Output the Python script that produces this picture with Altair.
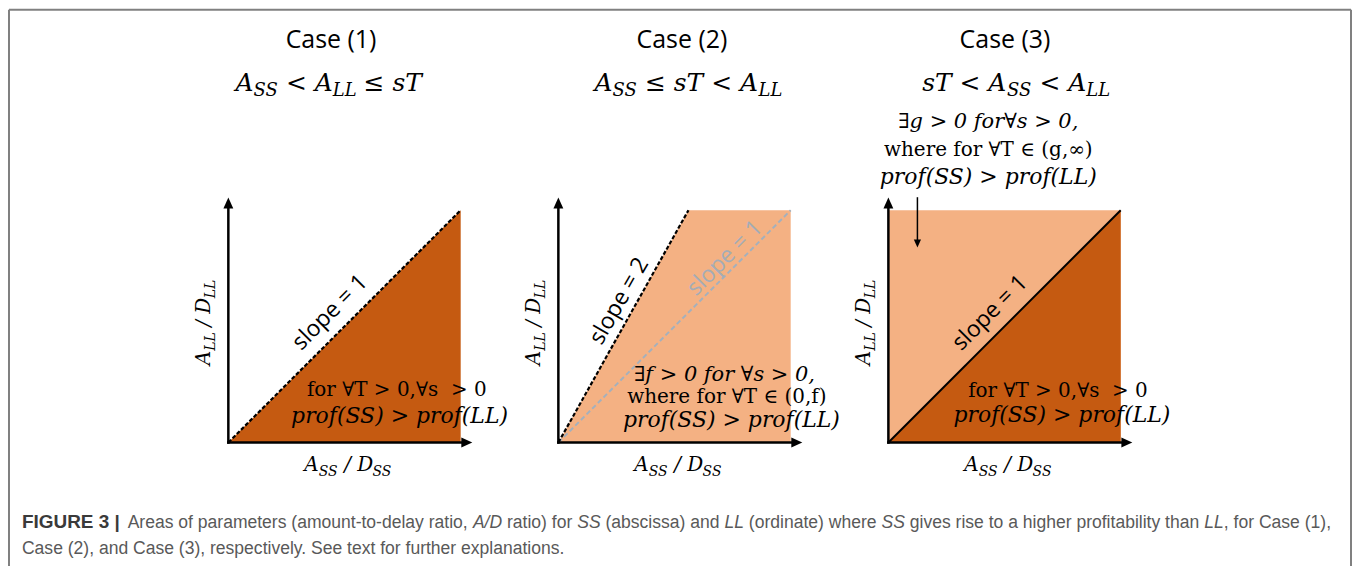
import altair as alt
import pandas as pd

# ---------------- data: region boundaries in (A_SS/D_SS , A_LL/D_LL) space ----------------
c1_area_x = [0, 1]
c1_area_top = [0, 1]
c1_line_x = [0, 1]
c1_line_y = [0, 1]

c2_area_x = [0, 0.56, 1]
c2_area_top = [0, 1, 1]
c2_steep_x = [0, 0.56]
c2_steep_y = [0, 1]
c2_unit_x = [0, 1]
c2_unit_y = [0, 1]

c3_light_x = [0, 1]
c3_light_top = [1, 1]
c3_dark_x = [0, 1]
c3_dark_top = [0, 1]
c3_line_x = [0, 1]
c3_line_y = [0, 1]

case_titles = ["Case (1)", "Case (2)", "Case (3)"]
conditions = [
    [("A", 0), ("SS", 1), (" < A", 0), ("LL", 1), (" ≤ sT", 0)],
    [("A", 0), ("SS", 1), (" ≤ sT < A", 0), ("LL", 1)],
    [("sT < A", 0), ("SS", 1), (" < A", 0), ("LL", 1)],
]
x_label = [("A", 0), ("SS", 1), (" / D", 0), ("SS", 1)]
y_label = [("A", 0), ("LL", 1), (" / D", 0), ("LL", 1)]
slope1 = "slope = 1"
slope2 = "slope = 2"
for_all = "for ∀T > 0,∀s  > 0"
prof = "prof(SS) > prof(LL)"
c2_lines = ["∃f > 0 for ∀s > 0,", "where for ∀T ∈ (0,f)", prof]
c3_lines = ["∃g > 0 for∀s > 0,", "where for ∀T ∈ (g,∞)", prof]
caption_bold = "FIGURE 3 |"
caption_1 = [("Areas of parameters (amount-to-delay ratio, ", 0), ("A/D", 1), (" ratio) for ", 0),
             ("SS", 1), (" (abscissa) and ", 0), ("LL", 1), (" (ordinate) where ", 0), ("SS", 1),
             (" gives rise to a higher profitability than ", 0), ("LL", 1), (", for Case (1),", 0)]
caption_2 = "Case (2), and Case (3), respectively. See text for further explanations."

# ---------------- style ----------------
NB = "\u00a0"
SERIF = "DejaVu Serif"
SANS = "Open Sans"
CAPF = "Liberation Sans"
DARK = "#c55a11"
LIGHT = "#f4b183"
GRAYLINE = "#a3b0bd"
DOM = [0, 1.06]
PW = 247
PX = PW / DOM[1]
ONE = pd.DataFrame({"k": [0]})
HEAD = "M0,-1L-0.9,1L0.9,1Z"
CAPSIZE = 17.6

EM = {'A': .722, 'S': .686, 'L': .638, 'D': .769, 'T': .668, 's': .536, ' ': .318,
      '<': .838, '≤': .838, '/': .337}
ARIAL = {' ': .278, 'a': .556, 'b': .556, 'c': .5, 'd': .556, 'e': .556, 'f': .278, 'g': .556,
         'h': .556, 'i': .222, 'j': .222, 'k': .5, 'l': .222, 'm': .833, 'n': .556, 'o': .556,
         'p': .556, 'q': .556, 'r': .333, 's': .5, 't': .278, 'u': .556, 'v': .5, 'w': .722,
         'x': .5, 'y': .5, 'z': .5, '(': .333, ')': .333, ',': .278, '-': .333, '.': .278,
         '/': .278, 'A': .667, 'C': .722, 'D': .722, 'L': .556, 'S': .667}


def tw(t, size, table=EM, default=.6):
    return sum(table.get(c, default) for c in t) * size


def sc():
    return alt.Scale(domain=DOM, nice=False, zero=False)


def XD(v):
    return alt.XDatum(v, scale=sc(), axis=None)


def YD(v):
    return alt.YDatum(v, scale=sc(), axis=None)


def area(xs, tops, color):
    df = pd.DataFrame({"x": xs, "top": tops, "bot": [0] * len(xs)})
    return alt.Chart(df).mark_area(color=color, opacity=1).encode(
        x=alt.X("x:Q", scale=sc(), axis=None),
        y=alt.Y("top:Q", scale=sc(), axis=None),
        y2="bot:Q")


def line(xs, ys, color, width, dash=None):
    df = pd.DataFrame({"x": xs, "y": ys})
    kw = dict(color=color, strokeWidth=width)
    if dash:
        kw["strokeDash"] = dash
    return alt.Chart(df).mark_line(**kw).encode(
        x=alt.X("x:Q", scale=sc(), axis=None),
        y=alt.Y("y:Q", scale=sc(), axis=None))


def seg(x1, y1, x2, y2, width, cap="butt"):
    return alt.Chart(ONE).mark_rule(color="black", strokeWidth=width, strokeCap=cap).encode(
        x=XD(x1), y=YD(y1), x2=alt.X2Datum(x2), y2=alt.Y2Datum(y2))


def head(x, y, angle, size=121):
    return alt.Chart(ONE).mark_point(shape=HEAD, filled=True, color="black", opacity=1,
                                     size=size, angle=angle, strokeWidth=0).encode(x=XD(x), y=YD(y))


def label(txt, x, y, size=20, font=SERIF, italic=False, angle=0, color="black"):
    return alt.Chart(ONE).mark_text(text=txt.replace(" ", NB), font=font, fontSize=size,
                                    fontStyle="italic" if italic else "normal", angle=angle,
                                    color=color, align="center", baseline="middle").encode(
        x=XD(x), y=YD(y))


def rich(parts, x, y, size, sub, angle=0):
    items = []
    for t, s in parts:
        fs = sub if s else size
        lead = (len(t) - len(t.lstrip(" "))) * EM[" "] * fs
        items.append((t.strip(" "), fs, s, lead, tw(t, fs)))
    pos = -sum(i[4] for i in items) / 2
    out = []
    for txt, fs, s, lead, w in items:
        out.append(alt.Chart(ONE).mark_text(
            text=txt.replace(" ", NB), font=SERIF, fontStyle="italic", fontSize=fs,
            align="left", baseline="alphabetic", angle=angle, dx=pos + lead,
            dy=0.22 * size if s else 0, color="black").encode(x=XD(x), y=YD(y)))
        pos += w
    return out


def caption_line(parts, x0, y0):
    out = []
    pos = 0.0
    for t, it in parts:
        lead = (len(t) - len(t.lstrip(" "))) * ARIAL[" "] * CAPSIZE
        out.append(alt.Chart(ONE).mark_text(
            text=t.strip(" "), font=CAPF, fontSize=CAPSIZE, fontStyle="italic" if it else "normal",
            color="#595959", align="left", baseline="alphabetic").encode(
            x=alt.value(x0 + pos + lead), y=alt.value(y0)))
        pos += tw(t, CAPSIZE, ARIAL, .556)
    return out


def axes():
    hx = 1.05 - 5.5 / PX
    hy = 1.055 - 5.5 / PX
    return [seg(0, 0, 0, hy, 2.5, "square"), seg(0, 0, hx, 0, 2.5, "square"),
            head(0, hy, 0), head(hx, 0, 90)]


def common(i, tx, fx):
    return ([label(case_titles[i], tx, 1.734, size=25, font=SANS)]
            + rich(conditions[i], fx, 1.515, 25, 18)
            + rich(x_label, 0.515, -0.124, 20, 14)
            + rich(y_label, -0.077, 0.515, 20, 14, angle=270))


# ---------------- panel 1 ----------------
p1_layers = [area(c1_area_x, c1_area_top, DARK),
             line(c1_line_x, c1_line_y, "black", 2.2, [4, 2])] + axes() + [
    label(slope1, 0.438, 0.56, size=23, font=SANS, angle=315),
    label(for_all, 0.725, 0.225, size=20),
    label(prof, 0.737, 0.115, size=22, italic=True),
] + common(0, 0.442, 0.433)

# page frame and caption (decoration, pixel positions relative to panel 1)
p1_layers += [
    alt.Chart(ONE).mark_rule(color="#808080", strokeWidth=2).encode(
        x=alt.value(-220), y=alt.value(-187), y2=alt.value(372)),
    alt.Chart(ONE).mark_rule(color="#808080", strokeWidth=2).encode(
        x=alt.value(1126), y=alt.value(-187), y2=alt.value(372)),
    alt.Chart(ONE).mark_rule(color="#808080", strokeWidth=2).encode(
        x=alt.value(-220), x2=alt.value(1126), y=alt.value(-187)),
    alt.Chart(ONE).mark_text(text=caption_bold.replace(" ", NB), font=CAPF, fontSize=19,
                             fontWeight="bold", color="#3a3a3a", align="left",
                             baseline="alphabetic").encode(x=alt.value(-207), y=alt.value(333)),
    alt.Chart(ONE).mark_text(text=caption_2, font=CAPF, fontSize=CAPSIZE, color="#595959",
                             align="left", baseline="alphabetic").encode(
        x=alt.value(-207), y=alt.value(359)),
] + caption_line(caption_1, -101, 333)

# ---------------- panel 2 ----------------
p2_layers = [area(c2_area_x, c2_area_top, LIGHT),
             line(c2_unit_x, c2_unit_y, GRAYLINE, 2, [5, 3]),
             line(c2_steep_x, c2_steep_y, "black", 2.2, [4, 2])] + axes() + [
    label(slope2, 0.262, 0.609, size=23, font=SANS, angle=300),
    label(slope1, 0.717, 0.794, size=23, font=SANS, angle=315, color="#a4acb6"),
    label(c2_lines[0], 0.715, 0.292, size=21, italic=True),
    label(c2_lines[1], 0.725, 0.197, size=20),
    label(c2_lines[2], 0.745, 0.099, size=22, italic=True),
] + common(1, 0.532, 0.558)

# ---------------- panel 3 ----------------
p3_layers = [area(c3_light_x, c3_light_top, LIGHT),
             area(c3_dark_x, c3_dark_top, DARK),
             line(c3_line_x, c3_line_y, "black", 2)] + axes() + [
    label(slope1, 0.438, 0.558, size=23, font=SANS, angle=315),
    label(for_all, 0.73, 0.222, size=20),
    label(prof, 0.747, 0.12, size=22, italic=True),
    label(c3_lines[0], 0.43, 1.378, size=21, italic=True),
    label(c3_lines[1], 0.43, 1.258, size=20),
    label(c3_lines[2], 0.43, 1.142, size=22, italic=True),
    seg(0.125, 1.056, 0.125, 0.86, 1.5),
    head(0.125, 0.84 + 4 / PX, 180, size=64),
] + common(2, 0.502, 0.548)


def panel(layers):
    return alt.layer(*layers).properties(width=PW, height=PW)


chart = alt.hconcat(panel(p1_layers), panel(p2_layers), panel(p3_layers),
                    spacing=84, bounds="flush").properties(padding=0).configure_view(stroke=None)

chart.save("out.html", embed_options={"renderer": "svg", "actions": False})
